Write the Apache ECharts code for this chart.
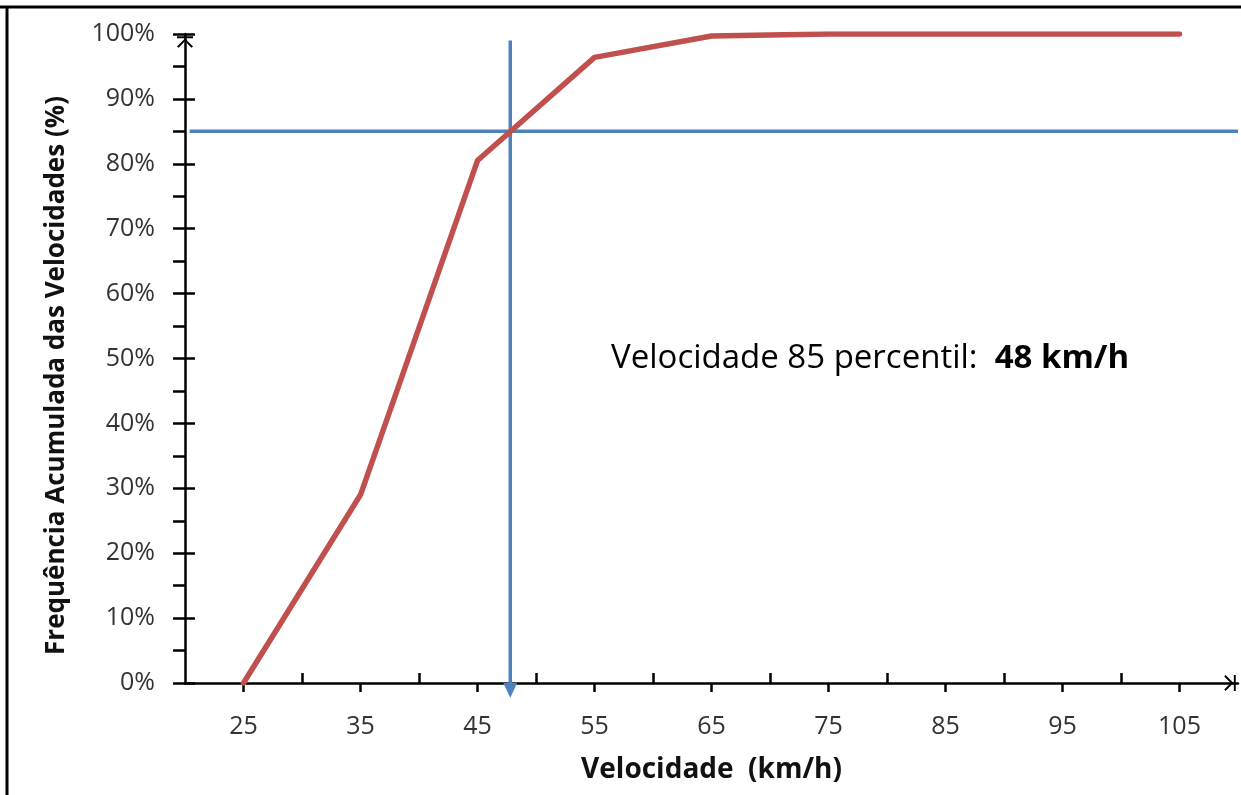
<!DOCTYPE html>
<html>
<head>
<meta charset="utf-8">
<script src="https://cdn.jsdelivr.net/npm/echarts@6/dist/echarts.min.js"></script>
<style>
html,body{margin:0;padding:0;background:#fff;}
#c{width:1241px;height:795px;}
</style>
</head>
<body>
<div id="c"></div>
<script>
// ---- data ----
var speeds = [25, 35, 45, 55, 65, 75, 85, 95, 105];
var cumFreq = [0, 29, 80.5, 96.4, 99.7, 100, 100, 100, 100];
var xLabelTicks = [25, 35, 45, 55, 65, 75, 85, 95, 105];
var xMidTicks = [30, 40, 50, 60, 70, 80, 90, 100];
var yMinorTicks = [0, 5, 10, 15, 20, 25, 30, 35, 40, 45, 50, 55, 60, 65, 70, 75, 80, 85, 90, 95, 100];
var percentile = 85;
var percentileSpeedPos = 47.8;
var percentileSpeedLabel = 48;

var FONT = 'Open Sans';
var arrowPath = 'path://M0,0L100,0L100,12L0,12Z M50,14L100,64L90,72L50,32L10,72L0,64Z';

var chart = echarts.init(document.getElementById('c'));
var axisLineStyle = {color: '#000', width: 2.5};

chart.setOption({
  animation: false,
  grid: {left: 185, right: 3, top: 34, bottom: 112, containLabel: false},
  xAxis: [
    {
      type: 'value', min: 20, max: 110,
      name: 'Velocidade  (km/h)', nameLocation: 'middle', nameGap: 73,
      nameTextStyle: {fontFamily: FONT, fontWeight: 'bold', fontSize: 28, color: '#111'},
      axisLine: {show: true, lineStyle: axisLineStyle, symbol: ['none', arrowPath], symbolSize: [16, 16], symbolOffset: [0, -8]},
      axisTick: {show: true, customValues: xLabelTicks, length: 9, inside: false, lineStyle: {color: '#000', width: 2.5}},
      axisLabel: {customValues: xLabelTicks, margin: 31, fontFamily: FONT, fontSize: 25, color: '#333'},
      splitLine: {show: false}
    },
    {
      type: 'value', min: 20, max: 110, position: 'bottom',
      axisLine: {show: false},
      axisTick: {show: true, customValues: xMidTicks, length: 10, inside: true, lineStyle: {color: '#000', width: 2.5}},
      axisLabel: {show: false},
      splitLine: {show: false}
    }
  ],
  yAxis: [
    {
      type: 'value', min: 0, max: 100, interval: 10,
      name: 'Frequência Acumulada das Velocidades (%)', nameLocation: 'middle', nameGap: 115, nameRotate: 90,
      nameTextStyle: {fontFamily: FONT, fontWeight: 'bold', fontSize: 26, color: '#111', padding: [0, 34, 0, 0]},
      axisLine: {show: true, lineStyle: axisLineStyle, symbol: ['none', arrowPath], symbolSize: [16, 16], symbolOffset: [0, -8]},
      axisTick: {show: true, customValues: yMinorTicks, length: 12, inside: false, lineStyle: {color: '#000', width: 2.5}},
      axisLabel: {formatter: '{value}%', margin: 30, fontFamily: FONT, fontSize: 25, color: '#333'},
      splitLine: {show: false}
    },
    {
      type: 'value', min: 0, max: 100, interval: 10, position: 'left',
      axisLine: {show: false},
      axisTick: {show: true, length: 10, inside: true, lineStyle: {color: '#000', width: 2.5}},
      axisLabel: {show: false},
      splitLine: {show: false}
    }
  ],
  series: [
    {
      type: 'line', xAxisIndex: 0, yAxisIndex: 0,
      data: [[20.4, percentile], [110, percentile]],
      showSymbol: false, symbol: 'none',
      lineStyle: {color: '#4F81BD', width: 3.5}, z: 2
    },
    {
      type: 'line', xAxisIndex: 0, yAxisIndex: 0, clip: false,
      data: [
        {value: [percentileSpeedPos, 99], symbol: 'none'},
        {value: [percentileSpeedPos, -1.1], symbol: 'triangle', symbolRotate: 180, symbolSize: [14, 15]}
      ],
      itemStyle: {color: '#4F81BD'},
      lineStyle: {color: '#4F81BD', width: 3.5}, z: 2
    },
    {
      type: 'line', xAxisIndex: 0, yAxisIndex: 0,
      data: speeds.map(function (s, i) { return [s, cumFreq[i]]; }),
      showSymbol: false, symbol: 'none',
      lineStyle: {color: '#C0504D', width: 5.5, cap: 'round', join: 'round'}, z: 3
    }
  ],
  graphic: [
    {type: 'line', shape: {x1: 0, y1: 7, x2: 1241, y2: 7}, style: {stroke: '#000', lineWidth: 3}},
    {type: 'line', shape: {x1: 7, y1: 7, x2: 7, y2: 795}, style: {stroke: '#000', lineWidth: 3}},
    {
      type: 'text', left: 611, top: 342,
      style: {
        text: '{n|Velocidade ' + percentile + ' percentil:\u00a0\u00a0}{b|' + percentileSpeedLabel + ' km/h}',
        rich: {
          n: {fontFamily: FONT, fontSize: 33, color: '#222'},
          b: {fontFamily: FONT, fontSize: 33, fontWeight: 'bold', color: '#111'}
        }
      }
    }
  ]
});
</script>
</body>
</html>
